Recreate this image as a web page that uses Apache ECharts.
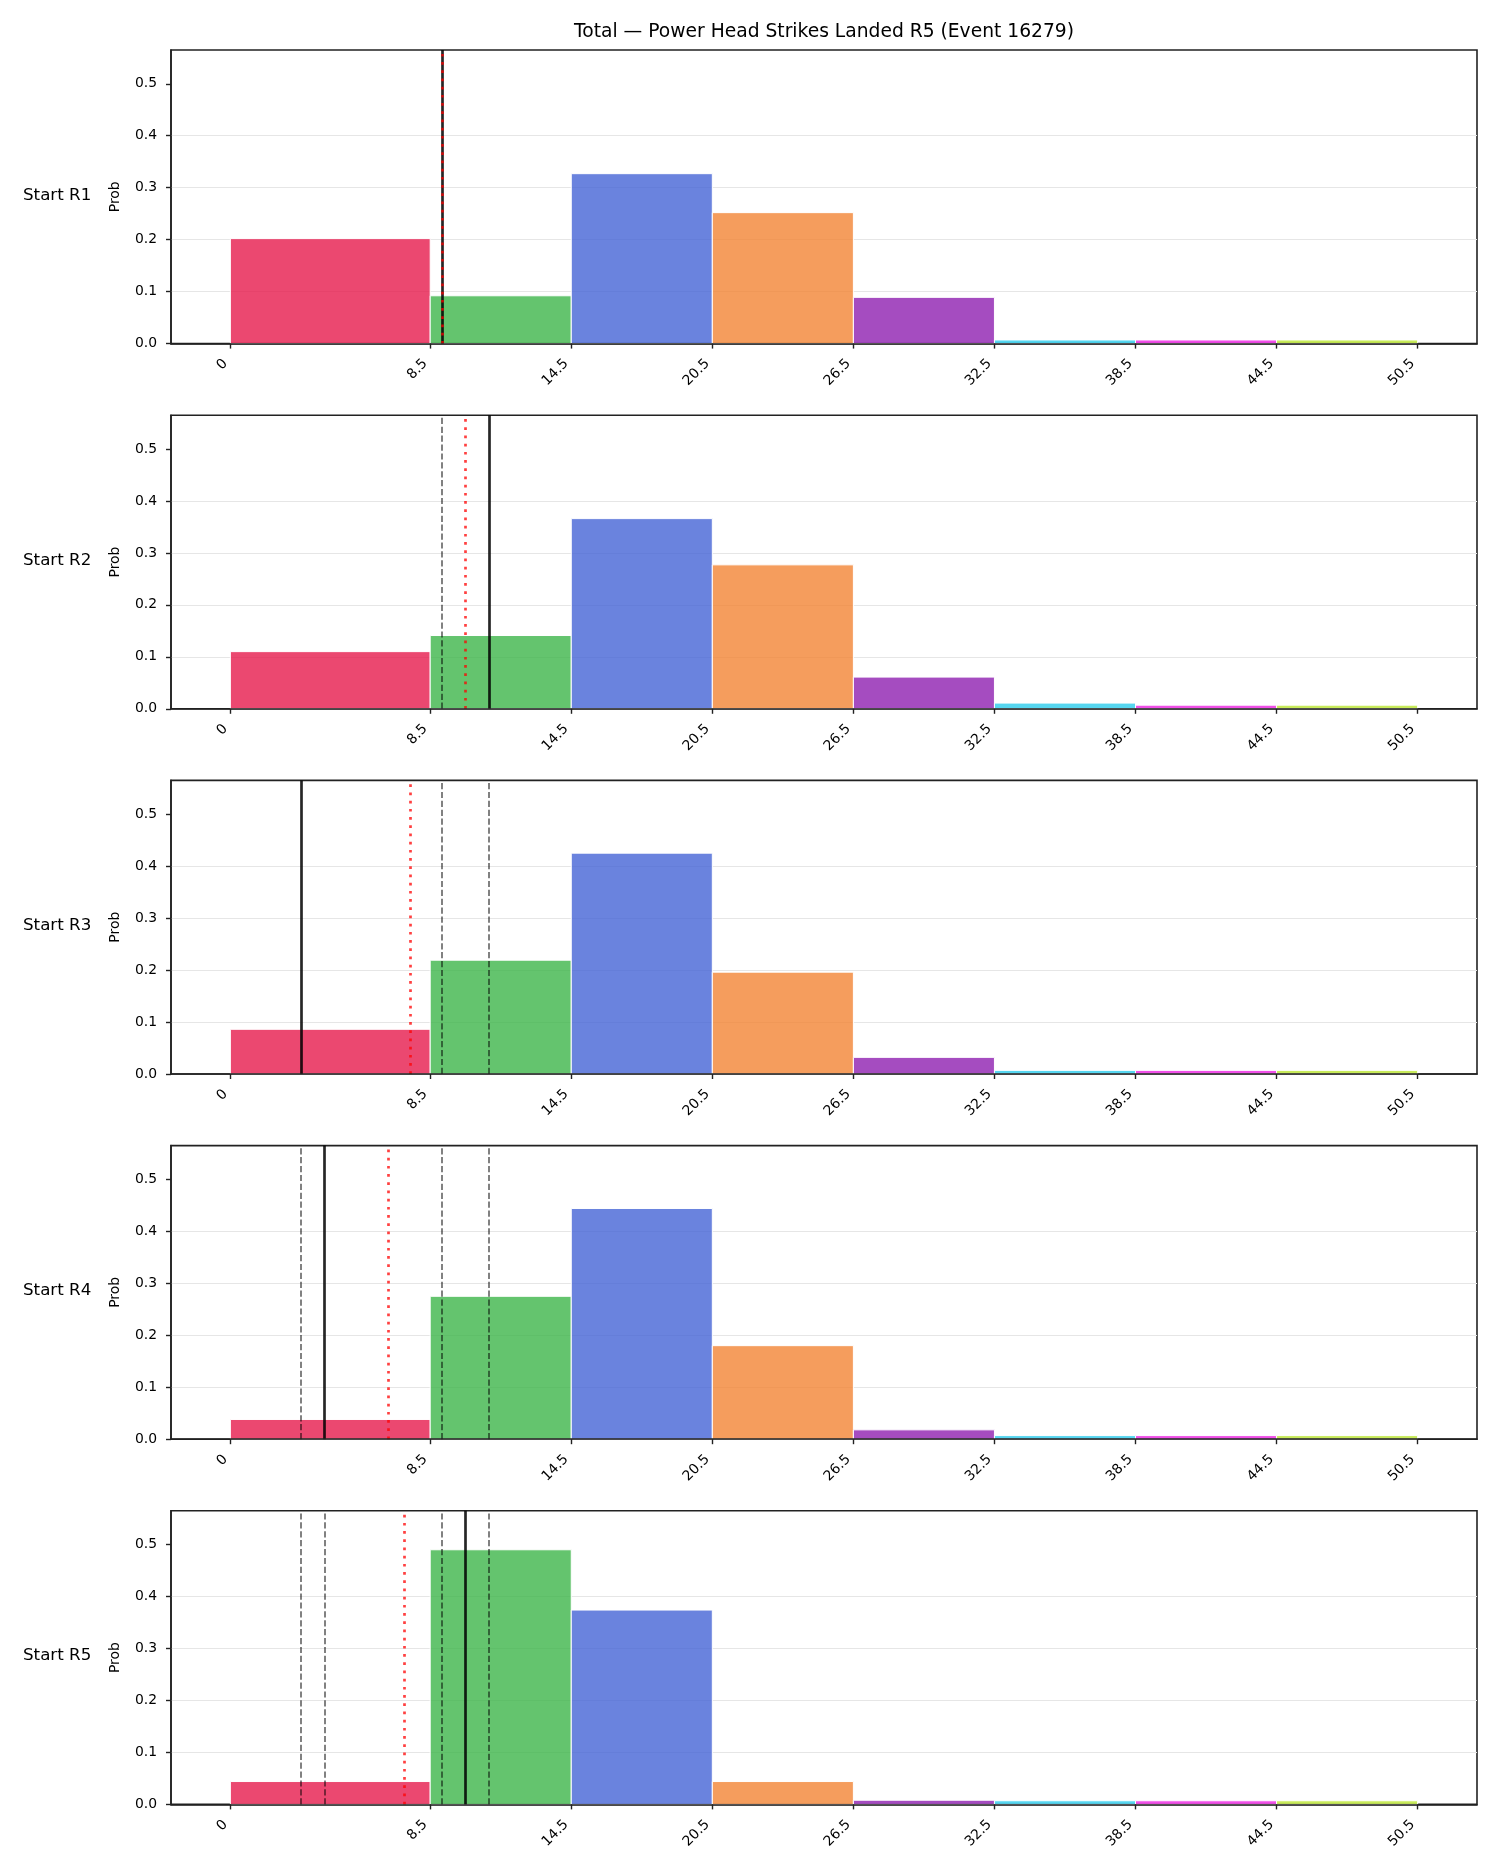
<!DOCTYPE html>
<html>
<head>
<meta charset="utf-8">
<script src="https://cdn.jsdelivr.net/npm/echarts@6/dist/echarts.min.js"></script>
<style>html,body{margin:0;padding:0;background:#fff}#c{width:1500px;height:1875px}</style>
</head>
<body>
<div id="c"></div>
<script>
// ---- data ----
const chartTitle = 'Total — Power Head Strikes Landed R5 (Event 16279)';
const binEdges = [0, 8.5, 14.5, 20.5, 26.5, 32.5, 38.5, 44.5, 50.5];
const tickLabels = ['0', '8.5', '14.5', '20.5', '26.5', '32.5', '38.5', '44.5', '50.5'];
const yTicks = [0, 0.1, 0.2, 0.3, 0.4, 0.5];
const rowLabels = ['Start R1', 'Start R2', 'Start R3', 'Start R4', 'Start R5'];
const probR1 = [0.202, 0.092, 0.327, 0.252, 0.089, 0.007, 0.007, 0.007];
const probR2 = [0.110, 0.141, 0.366, 0.277, 0.061, 0.011, 0.007, 0.007];
const probR3 = [0.086, 0.219, 0.425, 0.196, 0.032, 0.007, 0.007, 0.007];
const probR4 = [0.038, 0.275, 0.444, 0.180, 0.018, 0.007, 0.007, 0.007];
const probR5 = [0.044, 0.490, 0.374, 0.044, 0.008, 0.007, 0.007, 0.007];
const actualValue = [9, 11, 3, 4, 10];            // solid black line
const expectedValue = [9.0, 10.0, 7.66, 6.73, 7.41]; // red dotted line
const previousValues = [[], [9], [9, 11], [3, 9, 11], [3, 4, 9, 11]]; // grey dashed lines

// ---- styles ----
const binColors = ['rgba(230,26,76,0.8)', 'rgba(61,181,74,0.8)', 'rgba(69,100,214,0.8)', 'rgba(242,132,52,0.8)',
  'rgba(142,31,176,0.8)', 'rgba(44,204,236,0.8)', 'rgba(236,36,226,0.8)', 'rgba(186,230,49,0.8)'];
const FONT = 'DejaVu Sans';
const probs = [probR1, probR2, probR3, probR4, probR5];
const plotLeft = 171, plotRight = 23, plotTop0 = 50, plotH = 293.6, plotStep = 365.2;
const xMin = -2.525, xMax = 53.025, yMax = 0.565;

const grids = [], xAxes = [], yAxes = [], series = [], graphics = [];
probs.forEach((p, i) => {
  const top = plotTop0 + i * plotStep;
  grids.push({left: plotLeft, right: plotRight, top: top, height: plotH, show: true,
    borderColor: '#222', borderWidth: 1.6, backgroundColor: 'transparent', containLabel: false});
  xAxes.push({type: 'value', gridIndex: i, min: xMin, max: xMax, z: 5,
    axisLine: {show: true, onZero: false, lineStyle: {color: '#222', width: 1.6}},
    axisTick: {show: true, length: 5, lineStyle: {color: '#222', width: 1.4}, customValues: binEdges},
    axisLabel: {show: true, rotate: 45, margin: 13, padding: [0, 7, 0, 0], fontFamily: FONT, fontSize: 13.9, color: '#000',
      customValues: binEdges, formatter: v => tickLabels[binEdges.indexOf(v)] ?? ''},
    splitLine: {show: false}});
  yAxes.push({type: 'value', gridIndex: i, min: 0, max: yMax, interval: 0.1, z: 0,
    name: 'Prob', nameLocation: 'middle', nameGap: 49, nameRotate: 90,
    nameTextStyle: {fontFamily: FONT, fontSize: 13.9, color: '#000'},
    axisLine: {show: true, onZero: false, lineStyle: {color: '#222', width: 1.6}},
    axisTick: {show: true, inside: false, length: 5, lineStyle: {color: '#222', width: 1.4}, customValues: yTicks},
    axisLabel: {show: true, margin: 14, fontFamily: FONT, fontSize: 13.9, color: '#000',
      customValues: yTicks, formatter: v => v.toFixed(1)},
    splitLine: {show: true, showMinLine: false, showMaxLine: false, lineStyle: {color: '#e6e6e6', width: 1.1}}});
  const data = p.map((v, k) => [binEdges[k], binEdges[k + 1], v, k]);
  const lines = [];
  previousValues[i].forEach(x => lines.push({xAxis: x, lineStyle: {color: 'rgba(0,0,0,0.55)', width: 1.8, type: [6.2, 2.7]}}));
  lines.push({xAxis: actualValue[i], lineStyle: {color: 'rgba(0,0,0,0.85)', width: 2.7, type: 'solid'}});
  lines.push({xAxis: expectedValue[i], lineStyle: {color: 'rgba(255,0,0,0.75)', width: 2.7, type: [2.7, 5.5]}});
  series.push({type: 'custom', xAxisIndex: i, yAxisIndex: i, data: data, z: 2,
    encode: {x: [0, 1], y: 2},
    renderItem: (params, api) => {
      const s = api.coord([api.value(0), 0]);
      const e = api.coord([api.value(1), api.value(2)]);
      return {type: 'rect', shape: {x: s[0], y: e[1], width: e[0] - s[0], height: s[1] - e[1]},
        style: {fill: binColors[api.value(3)], stroke: '#fff', lineWidth: 1}};
    },
    markLine: {silent: true, symbol: 'none', label: {show: false}, animation: false, data: lines}});
  graphics.push({type: 'text', left: 23, top: top + plotH / 2 - 10,
    style: {text: rowLabels[i], font: '16.7px "DejaVu Sans"', fill: '#000', textVerticalAlign: 'top'}});
});
graphics.push({type: 'text', x: 824, y: 32,
  style: {text: chartTitle, font: '18.7px "DejaVu Sans"', fill: '#000', textAlign: 'center', textVerticalAlign: 'middle'}});

const chart = echarts.init(document.getElementById('c'), null, {renderer: 'canvas'});
chart.setOption({animation: false, backgroundColor: '#fff', grid: grids, xAxis: xAxes, yAxis: yAxes,
  series: series, graphic: graphics});
</script>
</body>
</html>
